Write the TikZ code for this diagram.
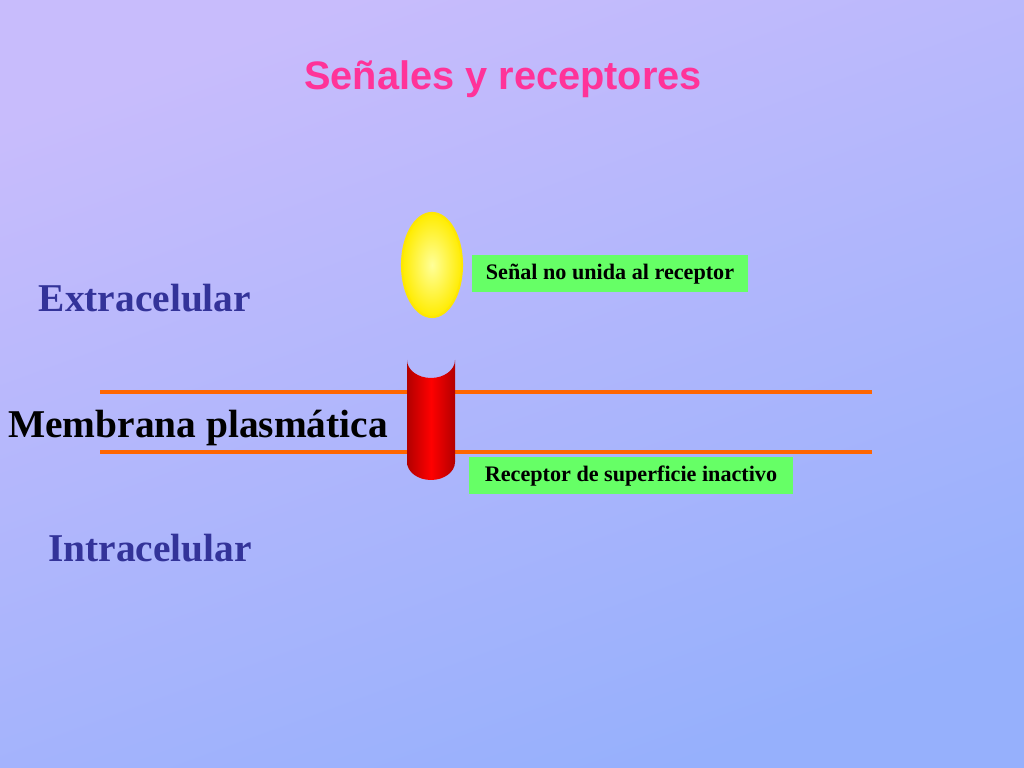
\documentclass[tikz,border=0pt]{standalone}
\usepackage{fontspec}
\setmainfont{Liberation Serif}
\newfontfamily\titlefont{Liberation Sans}
\usetikzlibrary{positioning}
\definecolor{bgtop}{RGB}{200,188,252}
\definecolor{bgbot}{RGB}{150,176,252}
\definecolor{zonecol}{RGB}{51,51,153}
\definecolor{titlecol}{RGB}{255,51,153}
\definecolor{memcol}{RGB}{255,102,0}
\definecolor{labelgreen}{RGB}{102,255,102}
\tikzset{
  zone/.style={font=\fontsize{11.2}{13}\selectfont\bfseries, text=zonecol},
  tag/.style={fill=labelgreen, font=\fontsize{6.3}{7}\selectfont\bfseries, inner sep=0pt, minimum height=0.37cm},
  memline/.style={draw=memcol, line width=1.2pt}
}
\begin{document}
\begin{tikzpicture}[x=0.01cm,y=-0.01cm]

   \shade[top color=bgtop, bottom color=bgbot, shading angle=20] (0,0) rectangle (1024,768);
   \useasboundingbox (0,0) rectangle (1024,768);

   \node (Title) at (503,79) [font=\titlefont\fontsize{11.3}{14}\selectfont\bfseries, text=titlecol] {Señales y receptores};

   \node (Extra) at (145,298) [zone] {Extracelular};
   \node (Membrana) at (198,428) [zone, text=black] {Membrana plasmática};
   \node (Intra) at (150,548) [zone] {Intracelular};

   \coordinate (TopL) at (100,392);
   \coordinate (TopR) at (872,392);
   \coordinate (BotL) at (100,452);
   \coordinate (BotR) at (872,452);
   \draw [memline] (TopL) -- (TopR);
   \draw [memline] (BotL) -- (BotR);

   % receptor
   \shade [left color=red!70!black, right color=red!70!black, middle color=red]
     (407,360) arc[start angle=180, end angle=360, x radius=24, y radius=-18]
     -- (455,462) arc[start angle=0, end angle=-180, x radius=24, y radius=-18] -- cycle;

   % signal
   \shade [inner color=yellow!40, outer color=yellow!85!orange, draw=yellow!90!orange, line width=0.6pt]
     (432,265) ellipse[x radius=30, y radius=52];
   \node (Ligand) at (432,265) [minimum width=0.6cm, minimum height=1.04cm] {};

   \node (Signal) at (610,274) [tag, minimum width=2.75cm] {Señal no unida al receptor};
   \node (Receptor) at (631,476) [tag, minimum width=3.23cm] {Receptor de superficie inactivo};

\end{tikzpicture}
\end{document}
